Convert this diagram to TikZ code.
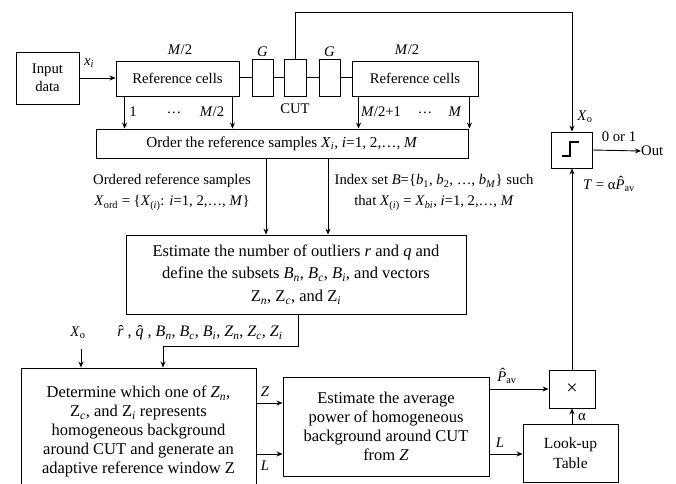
\documentclass[tikz,border=0pt]{standalone}
\usepackage{fontspec}
\setmainfont{Liberation Serif}
\usetikzlibrary{arrows.meta,calc}
\newcommand{\vi}[1]{\textit{#1}}
\newcommand{\lsub}[1]{\textsubscript{#1}}
\newcommand{\hatx}[3]{\ooalign{\vi{#3}\cr\hidewidth\kern#1\raisebox{#2}{\char"02C6}\hidewidth\cr}}
\newcommand{\fsA}{\fontsize{14.7}{18}\selectfont}
\newcommand{\fsB}{\fontsize{16.5}{19}\selectfont}
\newcommand{\fsC}{\fontsize{15.2}{18}\selectfont}
\begin{document}
\begin{tikzpicture}[x=1pt,y=-1pt,
  box/.style={draw, line width=0.9pt, inner sep=0pt, align=center},
  arr/.style={line width=0.9pt, -{Stealth[length=6pt,width=5pt,inset=2pt]}},
  ln/.style={line width=0.9pt},
  lab/.style={inner sep=0pt, align=center, font=\fsA}]
\path[use as bounding box] (0,0) rectangle (676,483);
\clip (0,0) rectangle (676,483);

% top row
\node[box, minimum width=63, minimum height=52, font=\fsA] (input) at (47.5,78) {Input\\data};
\node[box, minimum width=123, minimum height=35, font=\fsA] (refL) at (177.5,78.5) {Reference cells};
\node[box, minimum width=21, minimum height=37] (g1) at (262.5,77.5) {};
\node[box, minimum width=22, minimum height=37] (cut) at (295,77.5) {};
\node[box, minimum width=21, minimum height=37] (g2) at (329.5,77.5) {};
\node[box, minimum width=126, minimum height=35, font=\fsA] (refR) at (415,78.5) {Reference cells};

% middle
\node[box, minimum width=372, minimum height=29, font=\fsC] (order) at (282,143.5)
  {Order the reference samples \vi{X}\lsub{\vi{i}}, \vi{i}=1, 2,…, \vi{M}};
\node[box, minimum width=340, minimum height=79, font=\fontsize{16.5}{22.5}\selectfont] (est) at (296,274.5)
  {Estimate the number of outliers \vi{r} and \vi{q} and\\
   define the subsets \vi{B}\lsub{\vi{n}}, \vi{B}\lsub{\vi{c}}, \vi{B}\lsub{\vi{i}}, and vectors\\
   Z\lsub{\vi{n}}, Z\lsub{\vi{c}}, and Z\lsub{\vi{i}}};
\node[box, minimum width=41, minimum height=36] (thr) at (571.5,150) {};
\draw[line width=1.6pt] ($(thr.center)+(-9.5,6)$) -- ++(8,0) -- ++(0,-14) -- ++(9,0);

% bottom
\node[box, minimum width=235, minimum height=127, font=\fsB] (det) at (138.5,431.5)
  {Determine which one of \vi{Z}\lsub{\vi{n}},\\
   Z\lsub{\vi{c}}, and Z\lsub{\vi{i}} represents\\
   homogeneous background\\
   around CUT and generate an\\
   adaptive reference window Z};
\node[box, minimum width=206, minimum height=99, font=\fsB] (avg) at (386,426.5)
  {Estimate the average\\ power of homogeneous\\ background around CUT\\ from \vi{Z}};
\node[box, minimum width=46, minimum height=38, font=\fontsize{20}{20}\selectfont] (mult) at (572,389) {×};
\node[box, minimum width=95, minimum height=58, font=\fontsize{15.5}{20}\selectfont] (lut) at (570.5,453) {Look-up\\Table};

% top connections
\draw[arr] (input.east) -- (input.east -| refL.west);
\draw[ln] (refL.east |- g1.west) -- (g1.west);
\draw[ln] (g1.east) -- (cut.west);
\draw[ln] (cut.east) -- (g2.west);
\draw[ln] (g2.east) -- (g2.east -| refR.west);
\coordinate (tp) at (572,12);
\draw[arr] (cut.north) |- (tp) -- (tp |- thr.north);
\node[lab] (xo1) at (585,117) {\vi{X}\lsub{o}};

\draw[arr] ([xshift=9pt]refL.south west) -- ([xshift=9pt]refL.south west |- order.north);
\draw[arr] ([xshift=-7pt]refL.south east) -- ([xshift=-7pt]refL.south east |- order.north);
\draw[arr] ([xshift=7pt]refR.south west) -- ([xshift=7pt]refR.south west |- order.north);
\draw[arr] ([xshift=-9pt]refR.south east) -- ([xshift=-9pt]refR.south east |- order.north);

\node[lab] (xi) at (89,63) {\vi{x}\lsub{\vi{i}}};
\node[lab] (m2a) at (180,50) {\vi{M}/2};
\node[lab] (m2b) at (407,50) {\vi{M}/2};
\node[lab] (ga) at (262.5,52) {\vi{G}};
\node[lab] (gb) at (329.5,52) {\vi{G}};
\node[lab] (cutl) at (295,109) {CUT};
\node[lab] (n1) at (133,112) {1};
\node[lab] (d1) at (174,113) {…};
\node[lab] (n2) at (212,112) {\vi{M}/2};
\node[lab] (n3) at (381,112) {\vi{M}/2+1};
\node[lab] (d2) at (425,113) {…};
\node[lab] (n4) at (455,112) {\vi{M}};

% order -> est
\draw[arr] ([xshift=-16pt]order.south) -- ([xshift=-16pt]order.south |- est.north);
\draw[arr] ([xshift=46pt]order.south) -- ([xshift=46pt]order.south |- est.north);
\node[lab, font=\fontsize{14.7}{21}\selectfont] (ordl) at (172,192.5)
  {Ordered reference samples\\ \vi{X}\lsub{ord} = \{\vi{X}\lsub{(\vi{i})}: \vi{i}=1, 2,…, \vi{M}\}};
\node[lab, font=\fontsize{14.7}{21}\selectfont] (idxl) at (434,192.5)
  {Index set \vi{B}=\{\vi{b}\lsub{1}, \vi{b}\lsub{2}, …, \vi{b}\lsub{\vi{M}}\} such\\
   that \vi{X}\lsub{(\vi{i})} = \vi{X}\lsub{\vi{bi}}, \vi{i}=1, 2,…, \vi{M}};

% est -> det
\draw[arr] ([xshift=2pt]est.south) -- ++(0,32) -| ([xshift=24.5pt]det.north);
\node[lab, font=\fontsize{16}{18}\selectfont] (setl) at (200,333)
  {\hatx{0.05em}{0pt}{r} , \hatx{0.05em}{0pt}{q} , \vi{B}\lsub{\vi{n}}, \vi{B}\lsub{\vi{c}}, \vi{B}\lsub{\vi{i}}, \vi{Z}\lsub{\vi{n}}, \vi{Z}\lsub{\vi{c}}, \vi{Z}\lsub{\vi{i}}};
\coordinate (xo2c) at (81,349);
\draw[arr] (xo2c) -- (xo2c |- det.north);
\node[lab] (xo2) at (78,333) {\vi{X}\lsub{o}};

% det -> avg
\draw[arr] ([yshift=28.5pt]det.east) -- ([yshift=28.5pt]det.east -| avg.west);
\draw[arr] ([yshift=-22.5pt]det.east) -- ([yshift=-22.5pt]det.east -| avg.west);
\node[lab] (zl) at (265,392) {\vi{Z}};
\node[lab] (ll1) at (265,466) {\vi{L}};

% avg -> mult, lut
\draw[arr] ([yshift=37.5pt]avg.east) -- ([yshift=37.5pt]avg.east -| mult.west);
\draw[arr] ([yshift=-27.5pt]avg.east) -- ([yshift=-27.5pt]avg.east -| lut.west);
\node[lab] (pl) at (507,378) {\hatx{0.12em}{0.22em}{P}\lsub{av}};
\node[lab] (ll2) at (500,443) {\vi{L}};
\draw[arr] (mult.south |- lut.north) -- (mult.south);
\node[lab] (al) at (582,417) {α};
\draw[arr] (mult.north) -- (mult.north |- thr.south);
\node[lab] (tl) at (609,186) {\vi{T} = α\hatx{0.12em}{0.22em}{P}\lsub{av}};

% output
\node[lab, anchor=west] (out) at (641,151) {Out};
\draw[arr] (thr.east) -- (out.west);
\node[lab] (ol) at (619,137) {0 or 1};
\end{tikzpicture}
\end{document}
